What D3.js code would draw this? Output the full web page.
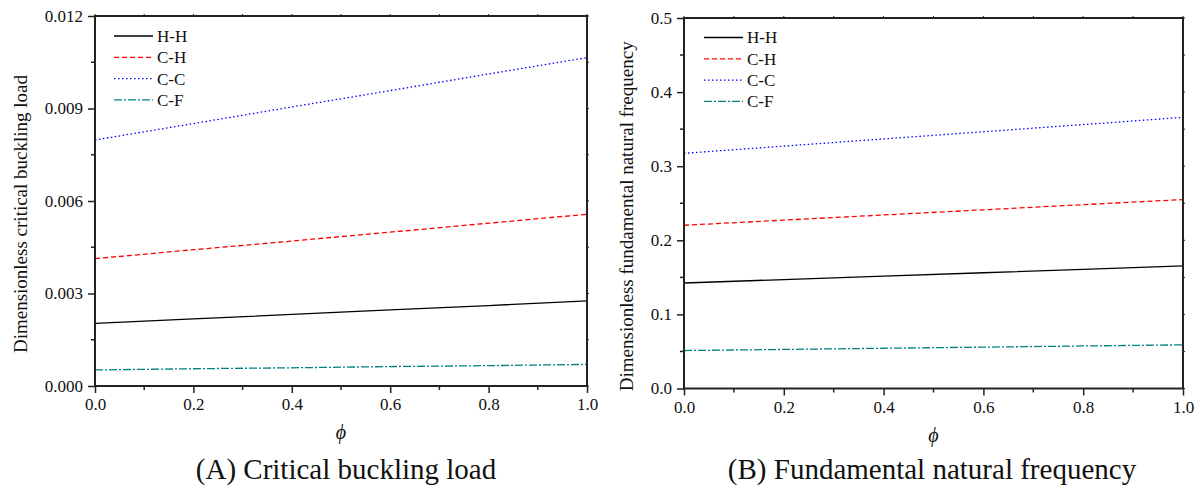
<!DOCTYPE html>
<html>
<head>
<meta charset="utf-8">
<script src="https://cdn.jsdelivr.net/npm/d3@7/dist/d3.min.js"></script>
<style>
  html, body { margin: 0; padding: 0; background: #fff; }
  svg text { font-family: "Liberation Serif", "Times New Roman", Times, serif !important; fill: #111; }
</style>
</head>
<body>
<svg id="chart" width="1203" height="487"></svg>
<script>
// ---- Data ----
const phi = [0.0, 0.2, 0.4, 0.6, 0.8, 1.0];
const seriesNames = ["H-H", "C-H", "C-C", "C-F"];

// (A) Dimensionless critical buckling load
const bucklingHH = [0.00203, 0.00218, 0.00232, 0.00247, 0.00261, 0.00276];
const bucklingCH = [0.00413, 0.00442, 0.00470, 0.00499, 0.00528, 0.00557];
const bucklingCC = [0.00798, 0.00851, 0.00905, 0.00958, 0.01012, 0.01065];
const bucklingCF = [0.00052, 0.00056, 0.00059, 0.00063, 0.00066, 0.00070];

// (B) Dimensionless fundamental natural frequency
const freqHH = [0.1424, 0.1470, 0.1516, 0.1562, 0.1608, 0.1654];
const freqCH = [0.2203, 0.2272, 0.2342, 0.2411, 0.2481, 0.2550];
const freqCC = [0.3174, 0.3271, 0.3368, 0.3465, 0.3562, 0.3659];
const freqCF = [0.0512, 0.0527, 0.0543, 0.0558, 0.0574, 0.0589];

const xTicks = [0.0, 0.2, 0.4, 0.6, 0.8, 1.0];
const yTicksA = [0.000, 0.003, 0.006, 0.009, 0.012];
const yTicksB = [0.0, 0.1, 0.2, 0.3, 0.4, 0.5];

const styles = {
  "H-H": { color: "#000000", dash: null },
  "C-H": { color: "#ff0000", dash: "5,3" },
  "C-C": { color: "#0000ff", dash: "1.5,2.5" },
  "C-F": { color: "#008080", dash: "8,2,2,2" }
};

const FONT = "'Liberation Serif','Times New Roman',Times,serif";
const svg = d3.select("#chart");

function drawPanel(cfg) {
  const { left, right, top, bottom, yDomain, yTicks, yFmt, yMinorStep, data, yLabel, yLabelX, title, titleX, legendX, legendY } = cfg;
  const x = d3.scaleLinear().domain([0, 1]).range([left, right]);
  const y = d3.scaleLinear().domain(yDomain).range([bottom, top]);
  const g = svg.append("g");
  const axisColor = "#222";

  const xMinor = d3.range(0.1, 1.0, 0.2);
  const yMinor = [];
  for (let v = yDomain[0] + yMinorStep; v < yDomain[1]; v += 2 * yMinorStep) yMinor.push(v);

  // bottom axis
  const bAxis = g.append("g").attr("transform", `translate(0,${bottom})`)
    .call(d3.axisBottom(x).tickValues(xTicks).tickSize(7).tickPadding(5).tickFormat(d3.format(".1f")));
  bAxis.attr("font-family", null);
  bAxis.select(".domain").remove();
  bAxis.selectAll("line").attr("stroke", axisColor).attr("stroke-width", 1.5);
  bAxis.selectAll("text").attr("font-size", 17).style("font-family", FONT).attr("fill", "#111");
  g.selectAll(null).data(xMinor).enter().append("line")
    .attr("x1", d => x(d)).attr("x2", d => x(d)).attr("y1", bottom).attr("y2", bottom + 4)
    .attr("stroke", axisColor).attr("stroke-width", 1.5);

  // left axis
  const lAxis = g.append("g").attr("transform", `translate(${left},0)`)
    .call(d3.axisLeft(y).tickValues(yTicks).tickSize(7).tickPadding(5).tickFormat(d3.format(yFmt)));
  lAxis.attr("font-family", null);
  lAxis.select(".domain").remove();
  lAxis.selectAll("line").attr("stroke", axisColor).attr("stroke-width", 1.5);
  lAxis.selectAll("text").attr("font-size", 17).style("font-family", FONT).attr("fill", "#111");
  g.selectAll(null).data(yMinor).enter().append("line")
    .attr("x1", left).attr("x2", left - 4).attr("y1", d => y(d)).attr("y2", d => y(d))
    .attr("stroke", axisColor).attr("stroke-width", 1.5);

  // top / right small mirror ticks
  const xAll = xTicks.concat(xMinor);
  g.selectAll(null).data(xAll).enter().append("line")
    .attr("x1", d => x(d)).attr("x2", d => x(d)).attr("y1", top).attr("y2", top - 2)
    .attr("stroke", axisColor).attr("stroke-width", 1);
  const yAll = yTicks.concat(yMinor);
  g.selectAll(null).data(yAll).enter().append("line")
    .attr("x1", right).attr("x2", right + 2).attr("y1", d => y(d)).attr("y2", d => y(d))
    .attr("stroke", axisColor).attr("stroke-width", 1);

  // lines
  const line = d3.line().x((d, i) => x(phi[i])).y(d => y(d));
  seriesNames.forEach(name => {
    const s = styles[name];
    g.append("path").datum(data[name])
      .attr("d", line).attr("fill", "none")
      .attr("stroke", s.color).attr("stroke-width", 1.3)
      .attr("stroke-dasharray", s.dash);
  });

  // frame
  g.append("rect").attr("x", left).attr("y", top).attr("width", right - left).attr("height", bottom - top)
    .attr("fill", "none").attr("stroke", axisColor).attr("stroke-width", 2);

  // legend
  seriesNames.forEach((name, i) => {
    const s = styles[name];
    const ly = legendY + i * 21.3;
    g.append("line").attr("x1", legendX).attr("x2", legendX + 39).attr("y1", ly).attr("y2", ly)
      .attr("stroke", s.color).attr("stroke-width", 1.3).attr("stroke-dasharray", s.dash);
    g.append("text").attr("x", legendX + 43).attr("y", ly).attr("dy", "0.35em")
      .attr("font-size", 17).style("font-family", FONT).text(name);
  });

  // x label
  g.append("text").attr("x", (left + right) / 2).attr("y", bottom + 53)
    .attr("text-anchor", "middle").attr("font-size", 20).attr("font-style", "italic")
    .style("font-family", FONT).text("\u03D5");

  // y label
  g.append("text")
    .attr("transform", `translate(${yLabelX},${(top + bottom) / 2 + 13}) rotate(-90)`)
    .attr("text-anchor", "middle").attr("font-size", 19).style("font-family", FONT).text(yLabel);

  // title
  g.append("text").attr("x", titleX).attr("y", 479)
    .attr("text-anchor", "middle").attr("font-size", 29).style("font-family", FONT).text(title);
}

drawPanel({
  left: 95, right: 587, top: 16, bottom: 386,
  yDomain: [0, 0.012], yTicks: yTicksA, yFmt: ".3f", yMinorStep: 0.0015,
  data: { "H-H": bucklingHH, "C-H": bucklingCH, "C-C": bucklingCC, "C-F": bucklingCF },
  yLabel: "Dimensionless critical buckling load", yLabelX: 27,
  title: "(A) Critical buckling load", titleX: 346,
  legendX: 114, legendY: 36
});

drawPanel({
  left: 684, right: 1183, top: 18, bottom: 388.5,
  yDomain: [0, 0.5], yTicks: yTicksB, yFmt: ".1f", yMinorStep: 0.05,
  data: { "H-H": freqHH, "C-H": freqCH, "C-C": freqCC, "C-F": freqCF },
  yLabel: "Dimensionless fundamental natural frequency", yLabelX: 633,
  title: "(B) Fundamental natural frequency", titleX: 932,
  legendX: 704, legendY: 37.5
});
</script>
</body>
</html>
